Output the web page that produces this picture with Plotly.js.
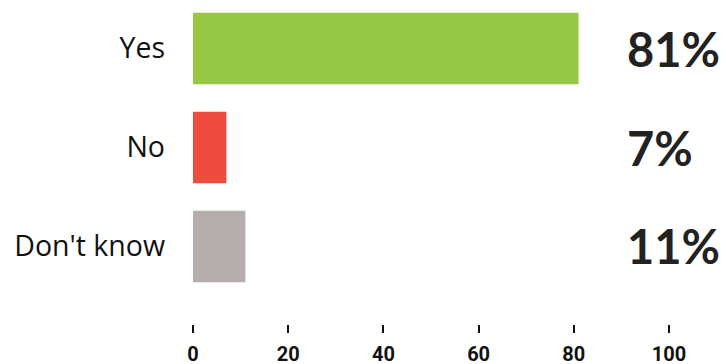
<!DOCTYPE html>
<html>
<head>
<meta charset="utf-8">
<script src="https://cdn.plot.ly/plotly-3.0.1.min.js"></script>
<style>
html,body{margin:0;padding:0;background:#fff;}
#chart{width:726px;height:364px;}
</style>
</head>
<body>
<div id="chart"></div>
<script>
const categories = ["Yes", "No", "Don't know"];
const values = [81, 7, 11];
const valueLabels = ["81%", "7%", "11%"];
const barColors = ["#96c844", "#f04c3e", "#b4adab"];
const xTicks = [0, 20, 40, 60, 80, 100];

const trace = {
  type: 'bar',
  orientation: 'h',
  y: categories,
  x: values,
  width: 0.72,
  marker: {color: barColors},
  hoverinfo: 'none'
};

const annotations = categories.map((c, i) => ({
  xref: 'paper', yref: 'y',
  x: 0.907, y: c,
  xanchor: 'left', yanchor: 'middle',
  text: valueLabels[i],
  showarrow: false,
  font: {family: 'Lato', size: 47, color: '#222222', weight: 'bold'}
}));

const layout = {
  width: 726, height: 364,
  margin: {l: 193, r: 57, t: 0, b: 40},
  paper_bgcolor: '#ffffff',
  plot_bgcolor: '#ffffff',
  showlegend: false,
  xaxis: {
    range: [0, 100],
    tickvals: xTicks,
    ticktext: xTicks.map(String),
    ticks: 'outside', ticklen: 8, tickwidth: 2, tickcolor: '#111111',
    showgrid: false, zeroline: false, showline: false,
    tickfont: {family: 'Roboto', size: 20, color: '#111111', weight: 'bold'},
    ticklabelstandoff: 4
  },
  yaxis: {
    type: 'category',
    categoryorder: 'array', categoryarray: categories,
    range: [2.783, -0.49],
    showgrid: false, zeroline: false, showline: false,
    ticks: '',
    tickfont: {family: 'Open Sans', size: 28.5, color: '#111111'},
    ticklabelstandoff: 27
  },
  annotations: annotations
};

Plotly.newPlot('chart', [trace], layout, {displayModeBar: false, staticPlot: true});
</script>
</body>
</html>
